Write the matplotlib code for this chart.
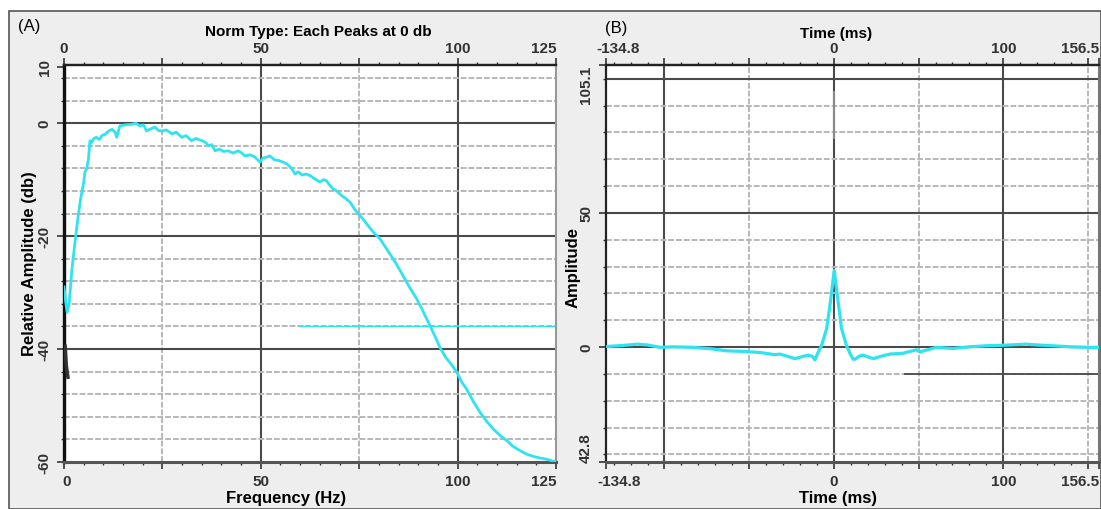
import numpy as np
import matplotlib
matplotlib.use("Agg")
import matplotlib.pyplot as plt
from matplotlib.patches import Rectangle
from matplotlib.ticker import FixedLocator
from matplotlib.transforms import ScaledTranslation

# ---------------- data ----------------
freq_hz = [0, 0.4, 0.8, 1.3, 2.0, 2.8, 3.5, 4.2, 4.6, 5.0, 5.3, 5.8, 6.2, 6.6, 7.0,
           7.5, 8.2, 9.0, 9.6, 10.4, 11.3, 12.2, 13.0, 13.4, 14.2, 15.5, 17.2, 18.3,
           19.3, 20.2, 21.0, 22.0, 23.1, 24.0, 24.8, 26.0, 27.4, 28.5, 29.9, 31.0,
           32.4, 33.5, 35.0, 36.0, 36.7, 37.5, 38.4, 39.5, 40.5, 41.7, 43.0, 44.2,
           45.0, 46.0, 47.3, 48.5, 49.8, 50.5, 51.5, 52.3, 53.5, 54.5, 55.7, 56.8,
           57.8, 58.7, 59.5, 60.5, 61.5, 62.5, 63.8, 65.0, 66.0, 66.7, 67.5, 68.3,
           69.3, 70.5, 71.5, 72.7, 73.8, 74.8, 76.0, 77.3, 78.6, 80.3, 82.0, 83.7,
           85.0, 86.6, 88.0, 89.6, 91.0, 93.0, 94.3, 95.5, 97.0, 98.5, 99.8, 101.0,
           102.3, 104.0, 105.7, 107.5, 109.1, 110.8, 112.5, 114.0, 115.9, 117.5,
           119.2, 121.0, 122.6, 124.0, 125.0]
rel_amp_db = [-29, -31.5, -33.5, -32, -26, -21, -17, -13.5, -12, -10.5, -8.7, -8.0,
              -6.4, -3.1, -3.4, -2.8, -2.5, -2.9, -2.2, -2.0, -1.4, -1.1, -1.6, -2.5,
              -0.5, -0.3, -0.2, 0.0, -0.5, -0.3, -1.4, -1.0, -0.7, -1.3, -1.4, -1.2,
              -1.9, -1.6, -2.5, -2.2, -3.1, -2.7, -3.1, -3.4, -4.0, -3.8, -4.9, -4.6,
              -5.0, -4.9, -5.3, -4.9, -5.2, -5.8, -5.6, -6.0, -6.9, -6.2, -6.0, -5.8,
              -6.5, -6.6, -6.9, -7.3, -8.0, -9.0, -8.6, -9.2, -9.0, -9.3, -9.9, -10.4,
              -10.0, -10.2, -11.0, -11.6, -12.0, -12.8, -13.3, -14.0, -15.2, -16.1,
              -17.0, -18.2, -19.3, -20.5, -22.3, -24.1, -25.6, -27.6, -29.3, -31.1,
              -33.0, -35.9, -37.8, -39.7, -41.5, -42.8, -44.1, -45.8, -47.1, -49.3,
              -51.2, -52.9, -54.2, -55.3, -56.2, -57.2, -58.0, -58.6, -59.0, -59.3,
              -59.5, -59.8, -60.0]
ref_line_freq = [60, 125]
ref_line_db = [-35.9, -35.9]
dark_trace_freq = [0.3, 0.6, 1.0]
dark_trace_db = [-39.5, -43.0, -45.0]

time_ms = [-134.8, -125, -116, -110, -102.5, -95, -83, -73, -63, -53, -43.6, -35,
           -31.8, -27, -23, -19, -15.1, -12.5, -11.2, -9.0, -7.3, -4.3, -2.0, 0.2,
           2.5, 4.5, 7.5, 10.0, 11.4, 12.4, 15.3, 17.3, 20.0, 23.2, 28.0, 33.0,
           40.8, 48.7, 50.7, 60.5, 70.3, 80.0, 90.0, 100.0, 113.5, 120.0, 129.3,
           140.0, 150.0, 156.5]
amplitude = [0.2, 0.6, 1.1, 0.8, -0.1, 0.1, -0.1, -0.6, -1.4, -1.6, -2.0, -2.8,
             -2.6, -3.5, -4.3, -3.6, -3.0, -3.5, -4.8, -1.5, 0.5, 6.8, 17.0, 28.6,
             17.0, 7.0, 0.5, -3.0, -4.5, -4.5, -3.3, -3.0, -3.6, -4.3, -3.4, -2.6,
             -2.3, -1.0, -1.8, -0.1, -0.5, 0.1, 0.5, 0.7, 1.1, 0.8, 0.5, 0.1, -0.1,
             -0.1]
ghost_time = [0, 0]
ghost_amp = [78, 95]
dark_seg_time = [42, 156.5]
dark_seg_amp = [-10, -10]

xa_ticks = [0, 25, 50, 75, 100, 125]
xa_labels = ["0", "", "50", "", "100", "125"]
ya_ticks = [10, 0, -20, -40, -60]
ya_labels = ["10", "0", "-20", "-40", "-60"]
xb_ticks = [-134.8, -100, -50, 0, 50, 100, 150, 156.5]
xb_labels = ["-134.8", "", "", "0", "", "100", "", "156.5"]
yb_ticks = [105.1, 50, 0, -42.8]
yb_labels = ["105.1", "50", "0", "42.8"]

# ---------------- style ----------------
W, H = 1101, 510
FONT = "Liberation Sans"
CYAN = "#2fe3f0"
DARK = "#4a4a4a"
LIGHT = "#b8b8b8"
plt.rcParams["font.family"] = [FONT, "DejaVu Sans"]

fig = plt.figure(figsize=(W / 100, H / 100), dpi=100, facecolor="white")
fig.patches.append(Rectangle((9 / W, 0), 1 - 9 / W, 1 - 12 / H, transform=fig.transFigure,
                             facecolor="#eeeeee", edgecolor="#555555", lw=1.2, zorder=-10))

def px_axes(x0, x1, y0, y1):
    ax = fig.add_axes([x0 / W, 1 - y1 / H, (x1 - x0) / W, (y1 - y0) / H])
    ax.set_zorder(5)
    return ax

def shift(label, dx_px):
    label.set_transform(label.get_transform() +
                        ScaledTranslation(dx_px / 100, 0, fig.dpi_scale_trans))

axA = px_axes(64, 556, 66, 463)
axB = px_axes(605.5, 1099, 66, 463)

def style_axes(ax):
    ax.set_facecolor("white")
    ax.tick_params(which="both", direction="out", colors="#333333")
    ax.tick_params(which="major", length=5, width=1.2)
    ax.tick_params(which="minor", length=2.5, width=1.0)

# ---------------- panel A ----------------
axA.set_xlim(0, 125)
axA.set_ylim(-60, 10.3)
for v in [25, 75]:
    axA.axvline(v, color=LIGHT, lw=1.4, ls=(0, (3, 1)), zorder=1)
for v in [50, 100]:
    axA.axvline(v, color=DARK, lw=1.5, zorder=1)
for v in range(8, -60, -4):
    if v % 20 == 0:
        axA.axhline(v, color=DARK, lw=1.5, zorder=1)
    else:
        axA.axhline(v, color=LIGHT, lw=1.4, ls=(0, (3, 1)), zorder=1)
axA.plot(ref_line_freq, ref_line_db, color=CYAN, lw=1.0, zorder=2)
axA.plot(dark_trace_freq, dark_trace_db, color="#333333", lw=2.5, zorder=3)
axA.plot(freq_hz, rel_amp_db, color=CYAN, lw=2.0, zorder=4)

style_axes(axA)
axA.xaxis.set_major_locator(FixedLocator(xa_ticks))
axA.set_xticklabels(xa_labels, fontsize=11, fontweight="bold")
axA.xaxis.set_minor_locator(FixedLocator(np.arange(0, 126, 5)))
axA.yaxis.set_major_locator(FixedLocator(ya_ticks))
axA.set_yticklabels(ya_labels, fontsize=11, fontweight="bold", rotation=90, va="center")
axA.yaxis.set_minor_locator(FixedLocator(np.arange(8, -60, -4)))
axA.tick_params(axis="x", pad=4)
axA.tick_params(axis="y", pad=4)
xal = axA.get_xticklabels()
xal[-1].set_ha("right")
shift(xal[0], 3)

secA = axA.secondary_xaxis("top")
secA.xaxis.set_major_locator(FixedLocator(xa_ticks))
secA.set_xticklabels(xa_labels, fontsize=11, fontweight="bold")
secA.xaxis.set_minor_locator(FixedLocator(np.arange(0, 126, 5)))
secA.tick_params(which="major", length=5, width=1.2, pad=2, colors="#333333")
secA.tick_params(which="minor", length=2.5, width=1.0, colors="#333333")
secA.get_xticklabels()[-1].set_ha("right")
secA.spines["top"].set_linewidth(1.6)
secA.spines["top"].set_color("#222222")

axA.spines["left"].set_linewidth(2.4)
axA.spines["left"].set_color("#111111")
axA.spines["top"].set_linewidth(1.6)
axA.spines["top"].set_color("#222222")
axA.spines["bottom"].set_linewidth(2.2)
axA.spines["bottom"].set_color("#555555")
axA.spines["right"].set_linewidth(1.5)
axA.spines["right"].set_color("#999999")

fig.text(286 / W, 1 - 499 / H, "Frequency (Hz)", fontsize=12, fontweight="bold",
         ha="center", va="center")
fig.text(30 / W, 1 - 264 / H, "Relative Amplitude (db)", fontsize=12, fontweight="bold",
         ha="center", va="center", rotation=90)
fig.text(318 / W, 1 - 32 / H, "Norm Type: Each Peaks at 0 db", fontsize=11,
         fontweight="bold", ha="center", va="center")
fig.text(18 / W, 1 - 27 / H, "(A)", fontsize=12, ha="left", va="center")

# ---------------- panel B ----------------
axB.set_xlim(-134.8, 156.5)
axB.set_ylim(-42.8, 105.1)
for v in [-100, 0, 100]:
    axB.axvline(v, color=DARK, lw=1.5, zorder=1)
for v in [-50, 50, 150]:
    axB.axvline(v, color=LIGHT, lw=1.4, ls=(0, (3, 1)), zorder=1)
for v in range(100, -50, -10):
    if v % 50 == 0:
        axB.axhline(v, color=DARK, lw=1.5, zorder=1)
    else:
        axB.axhline(v, color=LIGHT, lw=1.4, ls=(0, (3, 1)), zorder=1)
axB.plot(dark_seg_time, dark_seg_amp, color=DARK, lw=1.3, zorder=1.5)
axB.plot(ghost_time, ghost_amp, color="#8a8a8a", lw=1.5, zorder=2)
axB.plot(time_ms, amplitude, color=CYAN, lw=2.3, zorder=4)

style_axes(axB)
axB.xaxis.set_major_locator(FixedLocator(xb_ticks))
axB.set_xticklabels(xb_labels, fontsize=11, fontweight="bold")
axB.xaxis.set_minor_locator(FixedLocator(np.arange(-130, 157, 10)))
axB.yaxis.set_major_locator(FixedLocator(yb_ticks))
axB.set_yticklabels(yb_labels, fontsize=11, fontweight="bold", rotation=90)
axB.yaxis.set_minor_locator(FixedLocator(np.arange(100, -43, -10)))
axB.tick_params(axis="x", pad=4)
axB.tick_params(axis="y", pad=4)
xl = axB.get_xticklabels()
xl[0].set_ha("left")
shift(xl[0], -8)
xl[-1].set_ha("right")
yl = axB.get_yticklabels()
yl[0].set_va("top")
yl[1].set_va("center")
yl[2].set_va("center")
yl[3].set_va("bottom")

secB = axB.secondary_xaxis("top")
secB.xaxis.set_major_locator(FixedLocator(xb_ticks))
secB.set_xticklabels(xb_labels, fontsize=11, fontweight="bold")
secB.xaxis.set_minor_locator(FixedLocator(np.arange(-130, 157, 10)))
secB.tick_params(which="major", length=5, width=1.2, pad=2, colors="#333333")
secB.tick_params(which="minor", length=2.5, width=1.0, colors="#333333")
sl = secB.get_xticklabels()
sl[0].set_ha("left")
shift(sl[0], -9)
sl[-1].set_ha("right")
secB.spines["top"].set_linewidth(1.6)
secB.spines["top"].set_color("#222222")

axB.spines["left"].set_linewidth(1.6)
axB.spines["left"].set_color("#222222")
axB.spines["top"].set_linewidth(1.6)
axB.spines["top"].set_color("#222222")
axB.spines["bottom"].set_linewidth(2.2)
axB.spines["bottom"].set_color("#555555")
axB.spines["right"].set_linewidth(1.5)
axB.spines["right"].set_color("#777777")

fig.text(838 / W, 1 - 499 / H, "Time (ms)", fontsize=12, fontweight="bold",
         ha="center", va="center")
fig.text(573 / W, 1 - 268 / H, "Amplitude", fontsize=12, fontweight="bold",
         ha="center", va="center", rotation=90)
fig.text(836 / W, 1 - 34 / H, "Time (ms)", fontsize=11, fontweight="bold",
         ha="center", va="center")
fig.text(605 / W, 1 - 29 / H, "(B)", fontsize=12, ha="left", va="center")

fig.savefig("out.png", dpi=100, facecolor=fig.get_facecolor())
